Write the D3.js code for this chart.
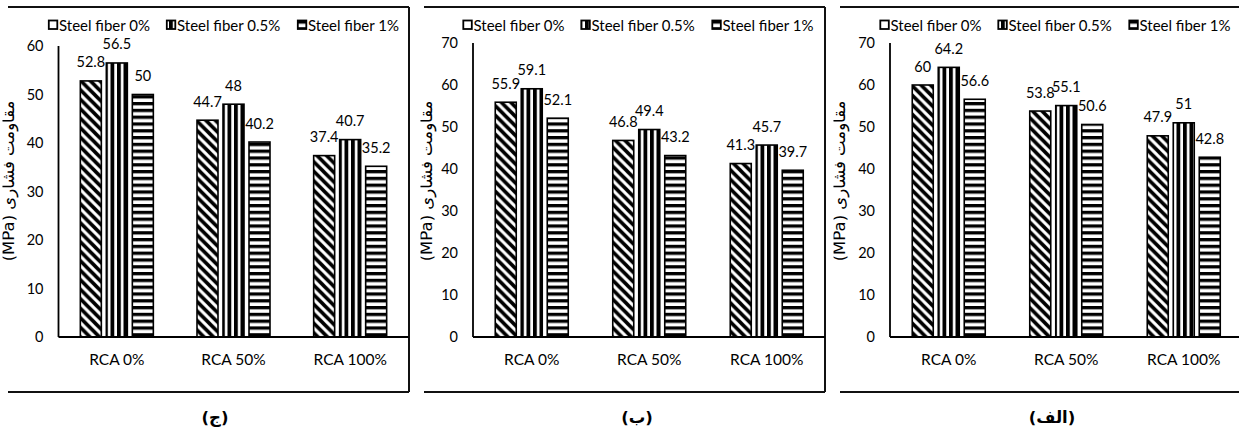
<!DOCTYPE html>
<html>
<head>
<meta charset="utf-8">
<script src="https://cdn.jsdelivr.net/npm/d3@7"></script>
<style>
  html, body { margin: 0; padding: 0; background: #fff; }
  svg { display: block; }
  .lat { font-family: Lato, "Open Sans", sans-serif; fill: #000; }
  .fa { font-family: "DejaVu Sans", "Noto Sans", sans-serif; fill: #000; }
</style>
</head>
<body>
<svg id="chart" width="1239" height="430"></svg>
<script>
// Compressive strength (MPa) of concrete mixes, by recycled aggregate share and steel fibre content
const categories = ["RCA 0%", "RCA 50%", "RCA 100%"];
const seriesNames = ["Steel fiber 0%", "Steel fiber 0.5%", "Steel fiber 1%"];

// panel (ج)
const jimFiber0 = [52.8, 44.7, 37.4];
const jimFiber05 = [56.5, 48, 40.7];
const jimFiber1 = [50, 40.2, 35.2];
const jimTicks = [0, 10, 20, 30, 40, 50, 60];

// panel (ب)
const beFiber0 = [55.9, 46.8, 41.3];
const beFiber05 = [59.1, 49.4, 45.7];
const beFiber1 = [52.1, 43.2, 39.7];
const beTicks = [0, 10, 20, 30, 40, 50, 60, 70];

// panel (الف)
const alefFiber0 = [60, 53.8, 47.9];
const alefFiber05 = [64.2, 55.1, 51];
const alefFiber1 = [56.6, 50.6, 42.8];
const alefTicks = [0, 10, 20, 30, 40, 50, 60, 70];

const captions = ["(ج)", "(ب)", "(الف)"];
const yTitle = "مقاومت فشاری (MPa)";

const svg = d3.select("#chart");
const defs = svg.append("defs");

// fill patterns: wide downward diagonal, wide vertical, wide horizontal
const pDiag = defs.append("pattern").attr("id", "pDiag")
  .attr("patternUnits", "userSpaceOnUse").attr("width", 9.5).attr("height", 9.5);
pDiag.append("rect").attr("width", 9.5).attr("height", 9.5).attr("fill", "#fff");
pDiag.append("path").attr("d", "M-2,-2 L11.5,11.5 M-2,7.5 L2,11.5 M7.5,-2 L11.5,2")
  .attr("stroke", "#000").attr("stroke-width", 3.6);

const pVert = defs.append("pattern").attr("id", "pVert")
  .attr("patternUnits", "userSpaceOnUse").attr("width", 6.5).attr("height", 6.5);
pVert.append("rect").attr("width", 6.5).attr("height", 6.5).attr("fill", "#fff");
pVert.append("rect").attr("x", 0).attr("width", 3.8).attr("height", 6.5).attr("fill", "#000");

const pHorz = defs.append("pattern").attr("id", "pHorz")
  .attr("patternUnits", "userSpaceOnUse").attr("width", 6.8).attr("height", 6.8);
pHorz.append("rect").attr("width", 6.8).attr("height", 6.8).attr("fill", "#fff");
pHorz.append("rect").attr("y", 0).attr("width", 6.8).attr("height", 3.3).attr("fill", "#000");

const fills = ["url(#pDiag)", "url(#pVert)", "url(#pHorz)"];
const keyFills = ["#fff", "url(#pVert)", "url(#pHorz)"];

const panels = [
  { series: [jimFiber0, jimFiber05, jimFiber1], ticks: jimTicks, yMax: 60,
    axisX: 58.5, plotRight: 408.5, frame: [8, 409], caption: captions[0], capX: 215, titleX: 8 },
  { series: [beFiber0, beFiber05, beFiber1], ticks: beTicks, yMax: 70,
    axisX: 473, plotRight: 825.5, frame: [424, 825], caption: captions[1], capX: 637, titleX: 426 },
  { series: [alefFiber0, alefFiber05, alefFiber1], ticks: alefTicks, yMax: 70,
    axisX: 890, plotRight: 1242.5, frame: [840, 1245], caption: captions[2], capX: 1052, titleX: 839 }
];

const yBase = 337;
const frameTop = 7, frameBottom = 392;

panels.forEach((p, pi) => {
  const g = svg.append("g");
  const yTop = p.yMax === 60 ? 46 : 43;

  const x0 = d3.scaleBand().domain(categories).range([p.axisX, p.plotRight]).padding(0);
  const x1 = d3.scaleBand().domain(d3.range(seriesNames.length))
    .range([-36.5, 36.5]).paddingInner(5 / 26).paddingOuter(0);
  const y = d3.scaleLinear().domain([0, p.yMax]).range([yBase, yTop]);

  // frame lines
  g.append("line").attr("x1", p.frame[0]).attr("x2", p.frame[1])
    .attr("y1", frameTop).attr("y2", frameTop).attr("stroke", "#111").attr("stroke-width", 2);
  g.append("line").attr("x1", p.frame[0]).attr("x2", p.frame[1])
    .attr("y1", frameBottom).attr("y2", frameBottom).attr("stroke", "#111").attr("stroke-width", 2);
  g.append("line").attr("x1", p.frame[1]).attr("x2", p.frame[1])
    .attr("y1", frameTop).attr("y2", frameBottom).attr("stroke", "#111").attr("stroke-width", 2);

  // y tick labels (no tick marks)
  const yAxis = d3.axisLeft(y).tickValues(p.ticks).tickSize(0).tickPadding(15);
  const ya = g.append("g").attr("transform", `translate(${p.axisX},0)`).call(yAxis);
  ya.select(".domain").remove();
  ya.selectAll("text").attr("class", "lat").attr("font-size", 14.5).attr("fill", "#000");

  // bars
  p.series.forEach((vals, si) => {
    g.append("g").selectAll("rect").data(vals).join("rect")
      .attr("x", (d, i) => x0(categories[i]) + x0.bandwidth() / 2 + x1(si))
      .attr("y", d => y(d))
      .attr("width", x1.bandwidth())
      .attr("height", d => y(0) - y(d))
      .attr("fill", fills[si])
      .attr("stroke", "#000").attr("stroke-width", 1.6);
  });

  // value labels
  p.series.forEach((vals, si) => {
    g.append("g").selectAll("text").data(vals).join("text")
      .attr("class", "lat").attr("font-size", 14.5)
      .attr("text-anchor", "middle").attr("dominant-baseline", "central")
      .attr("x", (d, i) => x0(categories[i]) + x0.bandwidth() / 2 + x1(si) + x1.bandwidth() / 2)
      .attr("y", d => y(d) - 19)
      .text(d => d);
  });

  // axis lines
  g.append("line").attr("x1", p.axisX).attr("x2", p.axisX)
    .attr("y1", y(p.yMax)).attr("y2", yBase).attr("stroke", "#000").attr("stroke-width", 1.8);
  const xAxis = d3.axisBottom(x0).tickSize(0).tickPadding(17);
  const xa = g.append("g").attr("transform", `translate(0,${yBase})`).call(xAxis);
  xa.select(".domain").attr("stroke", "#000").attr("stroke-width", 1.8)
    .attr("d", `M${p.axisX},0H${Math.min(p.plotRight, p.frame[1])}`);
  xa.selectAll("text").attr("class", "lat").attr("font-size", 15.5).attr("fill", "#000")
    .attr("dy", "0.71em");

  // legend
  const legX = p.axisX - 10.5;
  const offsets = [0, 118, 249];
  seriesNames.forEach((name, si) => {
    const lx = legX + offsets[si];
    g.append("rect").attr("x", lx + 0.8).attr("y", 20.5).attr("width", 8.5).attr("height", 8.5)
      .attr("fill", keyFills[si]).attr("stroke", "#000").attr("stroke-width", 1.8);
    g.append("text").attr("class", "lat").attr("font-size", 15)
      .attr("x", lx + 11).attr("y", 25).attr("dominant-baseline", "central")
      .text(name);
  });

  // y-axis title, its upper edge cut off by the panel margin
  const clipId = "clipTitle" + pi;
  defs.append("clipPath").attr("id", clipId).append("rect")
    .attr("x", p.titleX - 5.5).attr("y", 0).attr("width", 60).attr("height", 430);
  g.append("g").attr("clip-path", `url(#${clipId})`)
    .append("text").attr("class", "fa").attr("font-size", 16.5)
    .attr("transform", `translate(${p.titleX},181) rotate(-90)`)
    .attr("text-anchor", "middle").attr("dominant-baseline", "central")
    .attr("direction", "rtl")
    .text(yTitle);

  // caption
  svg.append("text").attr("class", "fa").attr("font-size", 16.5).attr("font-weight", "bold")
    .attr("x", p.capX).attr("y", 417).attr("text-anchor", "middle").attr("dominant-baseline", "central")
    .text(p.caption);
});
</script>
</body>
</html>
